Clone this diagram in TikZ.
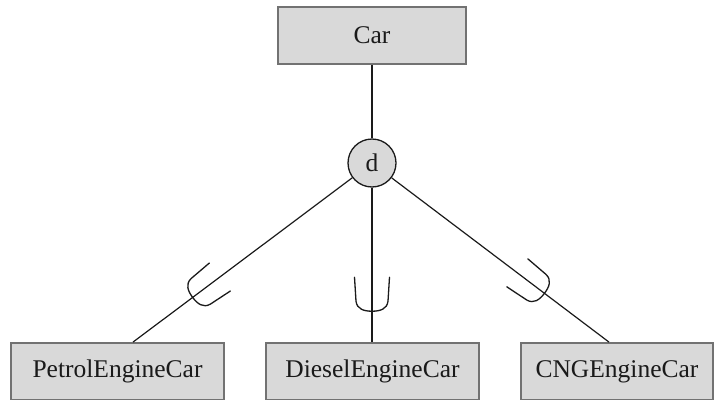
\documentclass[tikz,border=0pt]{standalone}
\usepackage{fontspec}
\setmainfont{Liberation Serif}
\definecolor{boxfill}{HTML}{D9D9D9}
\definecolor{boxline}{HTML}{727272}
\definecolor{ink}{HTML}{1A1A1A}
\begin{document}
\begin{tikzpicture}[x=1pt,y=-1pt,
  entity/.style={draw=boxline, line width=1.8pt, fill=boxfill,
    minimum height=57pt, inner sep=0pt,
    font=\fontsize{25.5}{30}\selectfont, text=ink},
  disjoint/.style={circle, draw=ink, line width=1.3pt, fill=boxfill,
    minimum size=48pt, inner sep=0pt,
    font=\fontsize{25.5}{30}\selectfont, text=ink},
  link/.style={draw=ink, line width=1.2pt},
  pics/subsetcup/.style={code={
    \draw[ink, line width=1.3pt, line cap=round]
      (-34,-17.5) -- (-10,-16) .. controls (-2,-15) and (0,-8) .. (0,0)
      .. controls (0,8) and (-2,15) .. (-10,16) -- (-34,17.5);
  }}]
  \useasboundingbox (0,0) rectangle (723,399);
  \clip (0,0) rectangle (723,399);

  % superclass and disjointness circle
  \node[entity, minimum width=188pt] (car) at (372,35.5) {Car};
  \node[disjoint] (d) at (372,163) {d};

  % subclasses
  \node[entity, minimum width=213pt] (petrol) at (117.5,371.5) {PetrolEngineCar};
  \node[entity, minimum width=213pt] (diesel) at (372.5,371.5) {DieselEngineCar};
  \node[entity, minimum width=192pt] (cng) at (617,371.5) {CNGEngineCar};

  % connectors
  \draw[link] (car) -- (d);
  \draw[link] (d) -- ([xshift=15.5pt]petrol.north)
    pic[pos=0.728, sloped, allow upside down] {subsetcup};
  \draw[link] (d) -- (d |- diesel.north)
    pic[pos=0.80, sloped, allow upside down] {subsetcup};
  \draw[link] (d) -- ([xshift=-8pt]cng.north)
    pic[pos=0.703, sloped, allow upside down] {subsetcup};
\end{tikzpicture}
\end{document}
